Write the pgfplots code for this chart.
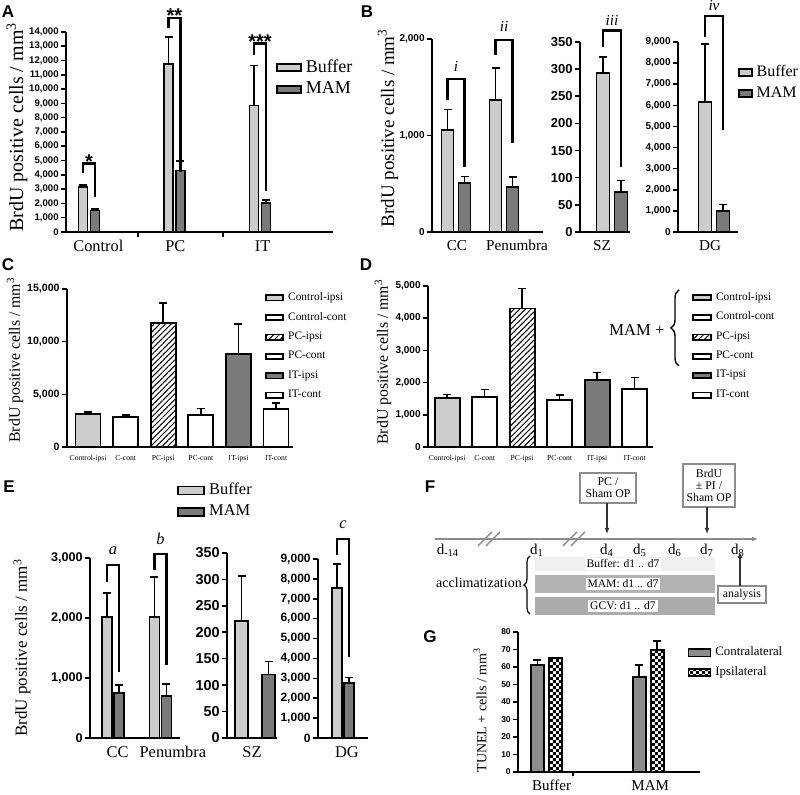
\documentclass[border=0pt]{standalone}
\usepackage{pgfplots}
\pgfplotsset{compat=1.18}
\usepackage{fontspec}
\setmainfont{Liberation Serif}
\setsansfont{Liberation Sans}
\usetikzlibrary{patterns,patterns.meta,decorations.pathreplacing,arrows.meta}
\newcommand{\fs}[1]{\fontsize{#1}{#1}\selectfont}
\colorlet{buf}{black!20}
\colorlet{mam}{black!52}
\colorlet{fr}{black!45}
\pgfdeclarepatternformonly{smallchecker}{\pgfqpoint{0pt}{0pt}}{\pgfqpoint{3.2pt}{3.2pt}}{\pgfqpoint{3.2pt}{3.2pt}}{%
  \pgfpathrectangle{\pgfqpoint{0pt}{0pt}}{\pgfqpoint{1.6pt}{1.6pt}}%
  \pgfpathrectangle{\pgfqpoint{1.6pt}{1.6pt}}{\pgfqpoint{1.6pt}{1.6pt}}%
  \pgfusepath{fill}}
\newcommand{\brk}[5]{\draw[line width=1.1pt] (axis cs:#1,#3) |- (axis cs:#2,#4) -- (axis cs:#2,#5);}
\pgfplotsset{
  pan/.style={scale only axis, anchor=south west, axis lines*=left,
    axis line style={line width=1pt,black},
    ymin=0, enlargelimits=false, clip=false, scaled y ticks=false,
    tick align=outside, major tick length=2.5pt,
    tick style={line width=0.8pt, black}, xtick style={draw=none},
    yticklabel style={/pgf/number format/1000 sep={,},
      /pgf/number format/assume math mode=true, inner sep=1pt},
    xticklabel style={inner sep=1.5pt},
    legend cell align=left,
    legend style={draw=none, fill=none, inner sep=0pt, anchor=north west},
  },
  lg/.style 2 args={legend image code/.code={\draw[##1,line width=0.9pt] (0pt,-#2) rectangle (#1,#2);}},
  bb/.style 2 args={ybar, bar width=#1, bar shift=0pt, draw=black, line width=0.9pt, #2,
    error bars/y dir=plus, error bars/y explicit,
    error bars/error bar style={line width=0.8pt, black},
    error bars/error mark options={rotate=90, black, line width=0.8pt, mark size=2pt}},
}
\begin{document}
\begin{tikzpicture}
\useasboundingbox (0,0) rectangle (400pt,397.5pt);

% ---------------- Panel A
\begin{axis}[pan, at={(33pt,281.5pt)}, width=133.5pt, height=100pt,
  xmin=-0.269, xmax=2.854, ymax=14000, ytick={0,1000,...,14000},
  yticklabel style={font=\fs{4.8}\sffamily\bfseries},
  xtick={0.11,1.01,2.03}, xticklabels={Control,PC,IT},
  xticklabel style={font=\fs{8.2}},
  legend style={at={(0.785,0.885)}, font=\fs{9}, row sep=-0.5pt}]
\addplot[bb={4.5pt}{fill=buf}, lg={12pt}{1.8pt}] coordinates {(-0.07,3150) +- (0,150) (0.93,11750) +- (0,1900) (1.93,8850) +- (0,2800)};
\addplot[bb={4.5pt}{fill=mam}, lg={12pt}{1.8pt}] coordinates {(0.07,1500) +- (0,100) (1.07,4300) +- (0,650) (2.07,2050) +- (0,200)};
\legend{Buffer,MAM}
\draw[line width=0.8pt] (axis cs:0.573,0) -- ++(0pt,-2.5pt) (axis cs:1.567,0) -- ++(0pt,-2.5pt);
\brk{-0.07}{0.07}{4100}{4800}{2450}
\brk{0.93}{1.07}{14260}{15000}{4200}
\brk{1.93}{2.07}{12400}{13200}{2900}
\node[anchor=base, font=\fs{10}\sffamily\bfseries, yshift=-2.5pt] at (axis cs:0,4800) {*};
\node[anchor=base, font=\fs{10}\sffamily\bfseries, yshift=-2.5pt] at (axis cs:1,15000) {**};
\node[anchor=base, font=\fs{10}\sffamily\bfseries, yshift=-2.5pt] at (axis cs:2,13200) {***};
\end{axis}

% ---------------- Panel B1
\begin{axis}[pan, at={(216pt,281.5pt)}, width=55.5pt, height=96.5pt,
  xmin=-0.5, xmax=1.81, ymax=2000, ytick={0,1000,2000},
  yticklabel style={font=\fs{5}\sffamily\bfseries},
  xtick={0.02,1.27}, xticklabels={CC,Penumbra}, xticklabel style={font=\fs{7.6}}]
\addplot[bb={6pt}{fill=buf}] coordinates {(-0.177,1060) +- (0,210) (0.823,1370) +- (0,330)};
\addplot[bb={6pt}{fill=mam}] coordinates {(0.177,510) +- (0,65) (1.177,470) +- (0,100)};
\brk{-0.177}{0.177}{1368}{1585}{674}
\brk{0.823}{1.177}{1834}{1990}{922}
\node[font=\fs{7.6}\itshape] at (axis cs:0,1720) {i};
\node[font=\fs{7.6}\itshape] at (axis cs:1,2130) {ii};
\end{axis}

% ---------------- Panel B2
\begin{axis}[pan, at={(290pt,281.5pt)}, width=25pt, height=95pt,
  xmin=-1.28, xmax=0.72, ymax=350, ytick={0,50,...,350},
  yticklabel style={font=\fs{6.5}\sffamily\bfseries},
  xtick={-0.4}, xticklabels={SZ}, xticklabel style={font=\fs{7.6}}]
\addplot[bb={6.5pt}{fill=buf}] coordinates {(-0.36,293) +- (0,29)};
\addplot[bb={6.5pt}{fill=mam}] coordinates {(0.36,73) +- (0,22)};
\brk{-0.36}{0.36}{340}{371}{120}
\node[font=\fs{7.6}\itshape] at (axis cs:0,390) {iii};
\end{axis}

% ---------------- Panel B3
\begin{axis}[pan, at={(339pt,281.5pt)}, width=30pt, height=95pt,
  xmin=-1.2, xmax=0.8, ymax=9000, ytick={0,1000,...,9000},
  yticklabel style={font=\fs{5}\sffamily\bfseries},
  xtick={-0.13}, xticklabels={DG}, xticklabel style={font=\fs{7.6}},
  legend style={at={(0.99,0.9)}, font=\fs{8}, row sep=-0.5pt}]
\addplot[bb={6.5pt}{fill=buf}, lg={6.5pt}{1.8pt}] coordinates {(-0.3,6150) +- (0,2750)};
\addplot[bb={6.5pt}{fill=mam}, lg={6.5pt}{1.8pt}] coordinates {(0.3,1000) +- (0,300)};
\legend{Buffer,MAM}
\brk{-0.3}{0.3}{9240}{10240}{4830}
\node[font=\fs{7.6}\itshape] at (axis cs:0,10720) {iv};
\end{axis}

% ---------------- Panel C
\begin{axis}[pan, at={(33.5pt,174pt)}, width=113pt, height=79pt,
  xmin=-0.56, xmax=5.45, ymax=15000, ytick={0,5000,10000,15000},
  yticklabel style={font=\fs{5.3}\sffamily\bfseries},
  xtick={0,...,5}, xticklabels={Control-ipsi,C-cont,PC-ipsi,PC-cont,IT-ipsi,IT-cont},
  xticklabel style={font=\fs{3.8}},
  legend style={at={(0.876,1.006)}, font=\fs{5.7}, row sep=0.4pt}]
\addplot[bb={12.5pt}{fill=buf}, lg={8.5pt}{1.3pt}] coordinates {(0,3150) +- (0,150)};
\addplot[bb={12.5pt}{fill=white}, lg={8.5pt}{1.3pt}] coordinates {(1,2850) +- (0,200)};
\addplot[bb={12.5pt}{pattern={Lines[angle=45,distance=2pt,line width=0.5pt]}}, lg={8.5pt}{1.3pt}] coordinates {(2,11750) +- (0,1900)};
\addplot[bb={12.5pt}{fill=white}, lg={8.5pt}{1.3pt}] coordinates {(3,3000) +- (0,650)};
\addplot[bb={12.5pt}{fill=mam}, lg={8.5pt}{1.3pt}] coordinates {(4,8850) +- (0,2800)};
\addplot[bb={12.5pt}{fill=white}, lg={8.5pt}{1.3pt}] coordinates {(5,3600) +- (0,600)};
\legend{Control-ipsi,Control-cont,PC-ipsi,PC-cont,IT-ipsi,IT-cont}
\end{axis}

% ---------------- Panel D
\begin{axis}[pan, at={(214pt,174pt)}, width=112.5pt, height=80.5pt,
  xmin=-0.51, xmax=5.49, ymax=5000, ytick={0,1000,...,5000},
  yticklabel style={font=\fs{5}\sffamily\bfseries},
  xtick={0,...,5}, xticklabels={Control-ipsi,C-cont,PC-ipsi,PC-cont,IT-ipsi,IT-cont},
  xticklabel style={font=\fs{3.8}},
  legend style={at={(1.173,0.988)}, font=\fs{5.7}, row sep=0.4pt}]
\addplot[bb={12.5pt}{fill=buf}, lg={9pt}{1.3pt}] coordinates {(0,1520) +- (0,110)};
\addplot[bb={12.5pt}{fill=white}, lg={9pt}{1.3pt}] coordinates {(1,1550) +- (0,240)};
\addplot[bb={12.5pt}{pattern={Lines[angle=45,distance=2pt,line width=0.5pt]}}, lg={9pt}{1.3pt}] coordinates {(2,4300) +- (0,620)};
\addplot[bb={12.5pt}{fill=white}, lg={9pt}{1.3pt}] coordinates {(3,1450) +- (0,160)};
\addplot[bb={12.5pt}{fill=mam}, lg={9pt}{1.3pt}] coordinates {(4,2070) +- (0,240)};
\addplot[bb={12.5pt}{fill=white}, lg={9pt}{1.3pt}] coordinates {(5,1810) +- (0,350)};
\legend{Control-ipsi,Control-cont,PC-ipsi,PC-cont,IT-ipsi,IT-cont}
\end{axis}

% ---------------- Panel E1
\begin{axis}[pan, at={(45pt,28.5pt)}, width=45pt, height=90pt,
  xmin=-0.48, xmax=1.41, ymax=3000, ytick={0,1000,2000,3000},
  yticklabel style={font=\fs{6.3}\sffamily\bfseries},
  xtick={0.1,1.26}, xticklabels={CC,Penumbra}, xticklabel style={font=\fs{8.2}},
  legend style={at={(0.967,1.44)}, font=\fs{8.2}, row sep=-0.5pt}]
\addplot[bb={5pt}{fill=buf}, lg={13pt}{2pt}] coordinates {(-0.126,2020) +- (0,400) (0.874,2020) +- (0,660)};
\addplot[bb={5pt}{fill=mam}, lg={13pt}{2pt}] coordinates {(0.126,750) +- (0,130) (1.126,700) +- (0,200)};
\legend{Buffer,MAM}
\brk{-0.126}{0.126}{2600}{2880}{1100}
\brk{0.874}{1.126}{2800}{3070}{1220}
\node[font=\fs{8.2}\itshape] at (axis cs:0,3120) {a};
\node[font=\fs{8.2}\itshape] at (axis cs:1,3320) {b};
\end{axis}

% ---------------- Panel E2
\begin{axis}[pan, at={(113.5pt,28.5pt)}, width=25pt, height=92.5pt,
  xmin=-1.12, xmax=0.88, ymax=350, ytick={0,50,...,350},
  yticklabel style={font=\fs{7.2}\sffamily\bfseries},
  xtick={-0.12}, xticklabels={SZ}, xticklabel style={font=\fs{8.2}}]
\addplot[bb={6.5pt}{fill=buf}] coordinates {(-0.54,222) +- (0,85)};
\addplot[bb={6.5pt}{fill=mam}] coordinates {(0.54,120) +- (0,25)};
\end{axis}

% ---------------- Panel E3
\begin{axis}[pan, at={(159pt,28.5pt)}, width=25pt, height=89.5pt,
  xmin=-1, xmax=1, ymax=9000, ytick={0,1000,...,9000},
  yticklabel style={font=\fs{6}\sffamily\bfseries},
  xtick={0.16}, xticklabels={DG}, xticklabel style={font=\fs{8.2}}]
\addplot[bb={5pt}{fill=buf}] coordinates {(-0.24,7550) +- (0,1200)};
\addplot[bb={5pt}{fill=mam}] coordinates {(0.24,2750) +- (0,300)};
\brk{-0.24}{0.24}{9200}{10000}{4070}
\node[font=\fs{8.2}\itshape] at (axis cs:0,10700) {c};
\end{axis}

% ---------------- Panel G
\begin{axis}[pan, at={(259pt,11.5pt)}, width=91pt, height=70pt,
  xmin=-0.28, xmax=1.51, ymax=80, ytick={0,10,...,80},
  yticklabel style={font=\fs{4.2}\sffamily\bfseries},
  xtick={0.05,1.02}, xticklabels={Buffer,MAM}, xticklabel style={font=\fs{7.5}},
  legend style={at={(0.93,0.925)}, font=\fs{6.4}, row sep=0pt}]
\addplot[bb={6.5pt}{fill=black!45}, lg={11pt}{1.8pt}] coordinates {(-0.0887,61) +- (0,3) (0.9113,54.5) +- (0,6.5)};
\addplot[bb={6.5pt}{pattern=smallchecker}, lg={11pt}{1.8pt}] coordinates {(0.0887,65) +- (0,0.4) (1.0887,69.5) +- (0,5.5)};
\legend{Contralateral,Ipsilateral}
\draw[line width=0.6pt] (axis cs:0.26,0) -- ++(0pt,-2pt);
\end{axis}

% ---------------- annotations in pixel coordinates
\begin{scope}[x=0.5pt,y=-0.5pt,yshift=397.5pt]
\foreach \l/\x/\y in {A/8/12,B/367/12,C/8/265,D/366/265,E/9/487,F/430/487,G/430/637}
  \node[font=\fs{8.5}\sffamily\bfseries] at (\x,\y) {\l};
\node[rotate=90, font=\fs{10}] at (17,127) {BrdU positive cells / mm\textsuperscript{3}};
\node[rotate=90, font=\fs{9.5}] at (388,128) {BrdU positive cells / mm\textsuperscript{3}};
\node[rotate=90, font=\fs{7.9}] at (15,360) {BrdU positive cells / mm\textsuperscript{3}};
\node[rotate=90, font=\fs{7.9}] at (383,362) {BrdU positive cells / mm\textsuperscript{3}};
\node[rotate=90, font=\fs{8.5}] at (22,648) {BrdU positive cells / mm\textsuperscript{3}};
\node[rotate=90, font=\fs{7}] at (480,710) {TUNEL + cells / mm\textsuperscript{3}};
% D: MAM + brace
\node[font=\fs{8.3}] at (637,330) {MAM +};
\draw[decorate, decoration={brace, amplitude=4pt}, line width=0.7pt] (679,366) -- (679,290);
% F timeline
\draw[fr, line width=0.8pt, -{Latex[length=3pt,width=2.5pt]}] (435,539) -- (758,539);
\draw[fr, line width=0.7pt] (478,546) -- (492,532) (486,546) -- (500,532)
  (563,546) -- (577,532) (571,546) -- (585,532);
\foreach \t/\x in {{-14}/448,1/537,4/607,5/640,6/675,7/707,8/738}
  \node[font=\fs{7.5}] at (\x,550) {d\textsubscript{\t}};
\draw[fr, line width=0.8pt, fill=white] (580,473) rectangle (636,503);
\node[font=\fs{5.9}, align=center] at (608,488) {PC /\\Sham OP};
\draw[fr, line width=0.8pt, fill=white] (683,464) rectangle (735,507);
\node[font=\fs{5.9}, align=center] at (709,485.5) {BrdU\\± PI /\\Sham OP};
\draw[black!80, line width=0.8pt, -{Latex[length=3pt,width=2.5pt]}] (607,503) -- (607,534);
\draw[black!80, line width=0.8pt, -{Latex[length=3pt,width=2.5pt]}] (707,507) -- (707,534);
\fill[black!6] (535,557) rectangle (715,571);
\fill[black!30] (535,575) rectangle (715,593);
\fill[black!33] (535,597) rectangle (715,615);
\node[fill=white, inner sep=1pt, font=\fs{5.8}] at (623,564) {Buffer: d1 .. d7};
\node[fill=white, inner sep=1pt, font=\fs{5.8}] at (623,584) {MAM: d1 .. d7};
\node[fill=white, inner sep=1pt, font=\fs{5.8}] at (623,606) {GCV: d1 .. d7};
\node[font=\fs{7}] at (479,583) {acclimatization};
\draw[decorate, decoration={brace, amplitude=3pt}, line width=0.6pt] (530,614) -- (530,556);
\draw[fr, line width=0.8pt, fill=white] (718,586) rectangle (766,603);
\node[font=\fs{5.9}] at (742,594.5) {analysis};
\draw[black!80, line width=0.8pt, -{Latex[length=3pt,width=2.5pt]}] (740,586) -- (740,552);
\end{scope}
\end{tikzpicture}
\end{document}
